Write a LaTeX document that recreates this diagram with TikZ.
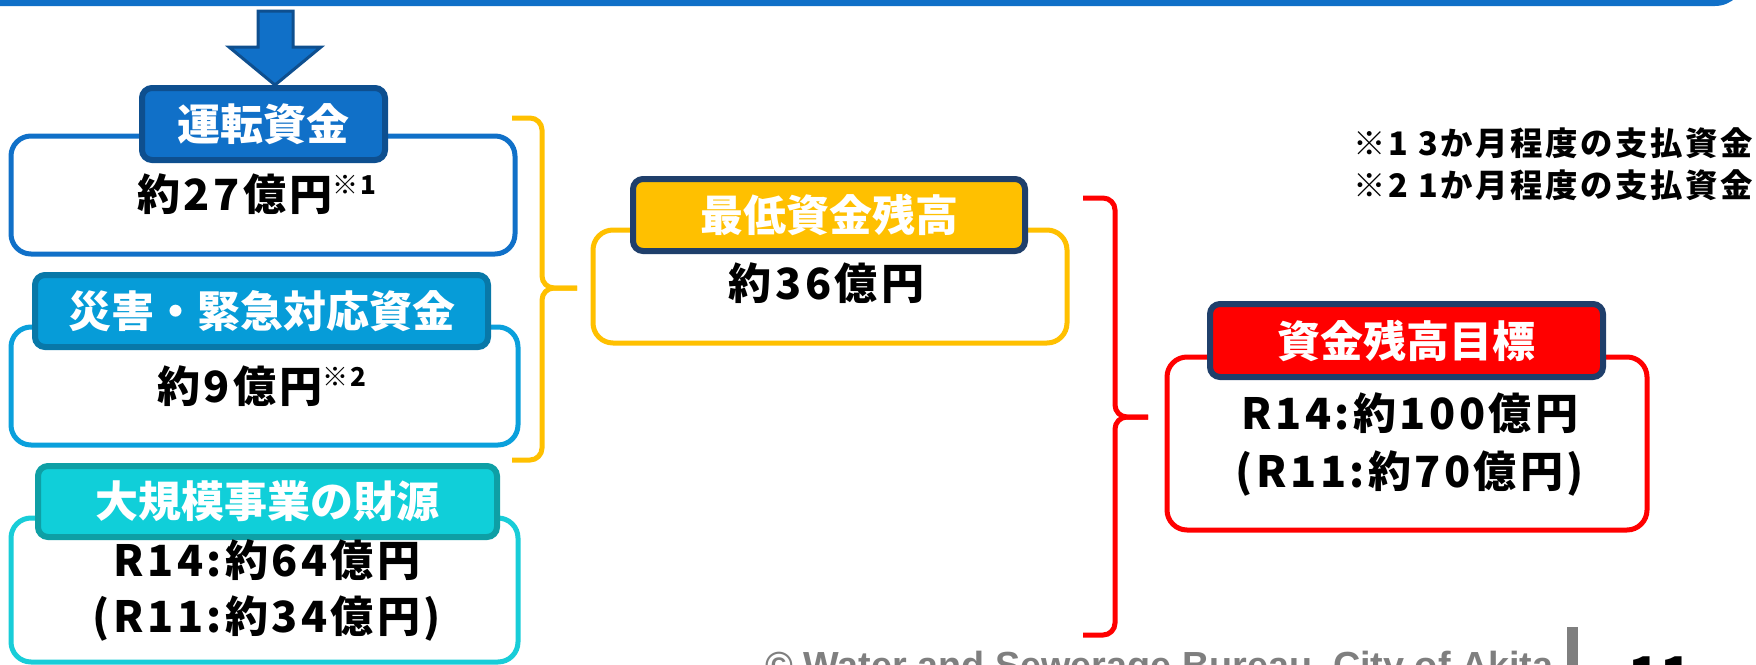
\documentclass[tikz,border=0pt]{standalone}
\usepackage{fontspec}
\newfontfamily\jp{Noto Sans CJK JP}
\newfontfamily\jpls{Noto Sans CJK JP}[LetterSpace=8]
\newfontfamily\ftr{Liberation Sans}
\usetikzlibrary{calc}
\definecolor{topblue}{HTML}{1070C8}
\definecolor{arrowedge}{HTML}{0E4F8F}
\definecolor{tonefill}{HTML}{1070C8}
\definecolor{toneedge}{HTML}{0E4F8F}
\definecolor{bone}{HTML}{1070C8}
\definecolor{ttwofill}{HTML}{069CD8}
\definecolor{ttwoedge}{HTML}{0878A8}
\definecolor{btwo}{HTML}{0AA0DC}
\definecolor{tthreefill}{HTML}{10CFD9}
\definecolor{tthreeedge}{HTML}{0E9FA5}
\definecolor{bthree}{HTML}{18CDD8}
\definecolor{gold}{HTML}{FFC000}
\definecolor{navy}{HTML}{1F3F6B}
\definecolor{pred}{HTML}{FF0000}
\definecolor{ftgray}{HTML}{7F7F7F}
\begin{document}
\begin{tikzpicture}[x=0.5pt,y=-0.5pt,
  body/.style={draw, line width=2.5pt, rounded corners=10pt, fill=white, inner sep=0pt},
  ttl/.style={line width=3pt, rounded corners=5pt, text=white, inner sep=0pt,
    font=\jp\bfseries\fontsize{21.5pt}{26pt}\selectfont},
  val/.style={text=black, align=center, inner sep=0pt,
    font=\jpls\bfseries\fontsize{21.5pt}{28pt}\selectfont},
  note/.style={text=black, align=left, inner sep=0pt, anchor=west,
    font=\jpls\bfseries\fontsize{16.2pt}{21pt}\selectfont},
  brk/.style={line width=2.5pt, rounded corners=6pt}]
\useasboundingbox (0,0) rectangle (1756,664);
% top band
\fill[topblue, rounded corners=15pt] (-40,-80) rectangle (1745,6);
% block arrow
\filldraw[fill=topblue, draw=arrowedge, line width=1.5pt]
  (258,11) -- (293,11) -- (293,47) -- (321,47) -- (275,85) -- (229,47) -- (258,47) -- cycle;
% bodies
\node[body, draw=bone, minimum width=252pt, minimum height=59pt] (b1) at (263,195) {};
\node[body, draw=btwo, minimum width=253.5pt, minimum height=59pt] (b2) at (264.5,386) {};
\node[body, draw=bthree, minimum width=253.5pt, minimum height=72pt] (b3) at (264.5,590) {};
\node[body, draw=gold, minimum width=237pt, minimum height=56.5pt] (b4) at (830,286.5) {};
\node[body, draw=pred, minimum width=240pt, minimum height=86.5pt] (b5) at (1407,443.5) {};
% titles
\node[ttl, fill=tonefill, draw=toneedge, minimum width=121.5pt, minimum height=36pt] (t1) at (263.5,124) {運転資金};
\node[ttl, fill=ttwofill, draw=ttwoedge, minimum width=226.5pt, minimum height=36pt] (t2) at (261.5,311) {災害・緊急対応資金};
\node[ttl, fill=tthreefill, draw=tthreeedge, minimum width=229.5pt, minimum height=35.5pt] (t3) at (267.5,501.5) {大規模事業の財源};
\node[ttl, fill=gold, draw=navy, minimum width=196pt, minimum height=36pt] (t4) at (829,215) {最低資金残高};
\node[ttl, fill=pred, draw=navy, minimum width=196.5pt, minimum height=36.5pt] (t5) at (1406.5,340.5) {資金残高目標};
% values
\node[val, anchor=west] (v1) at (137,194) {約27億円\raisebox{8pt}{\fontsize{13pt}{15pt}\selectfont ※1}};
\node[val, anchor=west] (v2) at (157,386) {約9億円\raisebox{8pt}{\fontsize{13pt}{15pt}\selectfont ※2}};
\node[val] (v3) at (267,590) {R14:約64億円\\(R11:約34億円)};
\node[val] (v4) at (826.5,283) {約36億円};
\node[val, font=\jpls\bfseries\fontsize{21.5pt}{29pt}\selectfont] (v5) at (1410,444) {R14:約100億円\\(R11:約70億円)};
% notes
\node[note] (n1) at (1353,143) {※1 3か月程度の支払資金};
\node[note] (n2) at (1353,185) {※2 1か月程度の支払資金};
% brackets
\coordinate (ytip) at (577,288);
\draw[brk, draw=gold] (512,118) -- (542,118) -- (542,288) -- (ytip);
\draw[brk, draw=gold] (512,460) -- (542,460) -- (542,288) -- (ytip);
\coordinate (rtip) at (1148,417);
\draw[brk, draw=pred] (1083,198) -- (1115,198) -- (1115,417) -- (rtip);
\draw[brk, draw=pred] (1083,635) -- (1115,635) -- (1115,417) -- (rtip);
% footer
\node[anchor=base west, text=ftgray, inner sep=0pt] (ft) at (765,678)
  {\resizebox{394pt}{!}{\ftr\bfseries © Water and Sewerage Bureau, City of Akita}};
\fill[ftgray] (1567,627) rectangle (1578,680);
\node[anchor=base, inner sep=0pt, font=\jp\bfseries\fontsize{26pt}{30pt}\selectfont] (pg) at (1660,694) {11};
\end{tikzpicture}
\end{document}
